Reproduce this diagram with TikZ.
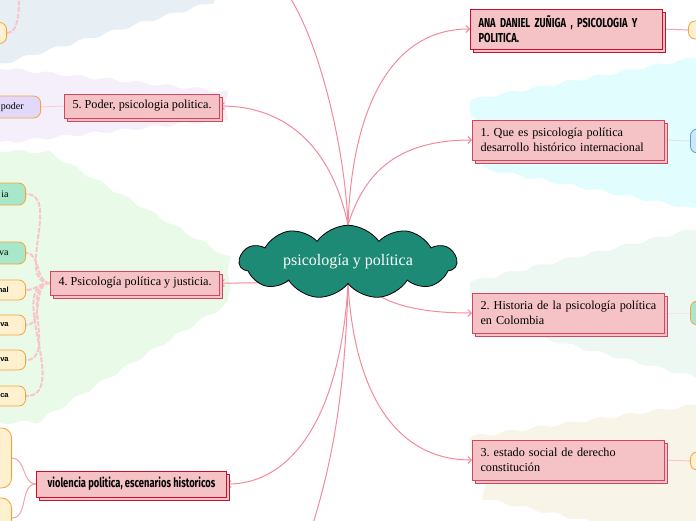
\documentclass[tikz,border=0pt]{standalone}
\usepackage{fontspec}
\setmainfont{Liberation Serif}
\setsansfont{Liberation Sans}
\newfontfamily\headfont[FakeStretch=0.72]{Fira Sans}
\usetikzlibrary{positioning,shapes.symbols,shadows,arrows.meta,decorations.pathmorphing}
\frenchspacing

\definecolor{boxfill}{HTML}{F5C2C5}
\definecolor{boxline}{HTML}{D2475F}
\definecolor{boxdark}{HTML}{C8102E}
\definecolor{linkpink}{HTML}{F28A9B}
\definecolor{coreteal}{HTML}{1D8A76}
\definecolor{leafline}{HTML}{F5A33A}
\definecolor{leafyellow}{HTML}{FFF1CF}
\definecolor{leafmint}{HTML}{A9E7CB}
\definecolor{leaflilac}{HTML}{E2D8FA}
\definecolor{leafblue}{HTML}{CDE8FA}
\definecolor{leafblueline}{HTML}{4DA3E0}
\definecolor{zoneblue}{HTML}{E7EFF5}
\definecolor{zonelilac}{HTML}{F5EFFB}
\definecolor{zonegreen}{HTML}{E9FBE8}
\definecolor{zonecyan}{HTML}{E1FDFD}
\definecolor{zonemint}{HTML}{EEF8F3}
\definecolor{zonebeige}{HTML}{F8F4E7}

\pgfdeclarelayer{bg}
\pgfdeclarelayer{links}
\pgfsetlayers{bg,links,main}

\begin{document}
\begin{tikzpicture}[x=1pt,y=-1pt,
  topic/.style={draw=boxline, fill=boxfill, line width=1pt,
    copy shadow={shadow xshift=3pt, shadow yshift=-3pt},
    anchor=west, inner xsep=8pt, minimum height=24pt,
    font=\fontsize{12.2}{15}\selectfont},
  wide/.style={minimum width=191pt, minimum height=40pt, text width=176pt, align=left},
  heading/.style={draw=boxdark, font=\headfont\bfseries\fontsize{13}{14.5}\selectfont},
  leaf/.style={draw=leafline, fill=leafyellow, line width=0.8pt, rounded corners=7pt,
    minimum height=22pt, text width=60pt, align=right, inner xsep=17pt, anchor=east,
    font=\fontsize{10}{12}\selectfont},
  tag/.style={font=\sffamily\bfseries\fontsize{7.5}{9}\selectfont, minimum height=20pt},
  link/.style={draw=linkpink, line width=1pt, -{Straight Barb[length=3.5pt,width=7pt]}},
  twig/.style={draw=linkpink!60, line width=1pt},
  strand/.style={draw=linkpink!50, line width=2pt, dash pattern=on 5pt off 1.5pt},
  zone/.style={decorate, decoration={snake, amplitude=1.5pt, segment length=30pt}}]
  \useasboundingbox (0,0) rectangle (696,520);
  \clip (0,0) rectangle (696,520);

  % zones
  \begin{pgfonlayer}{bg}
    \fill[zone, zoneblue] (-20,-20) -- (225,-20) -- (212,0) -- (0,62) -- (-20,66) -- cycle;
    \fill[zone, zonelilac] (-20,66) -- (0,68) -- (228,92) -- (228,122) -- (0,146) -- (-20,148) -- cycle;
    \fill[zone, zonegreen] (-20,150) -- (40,152) -- (228,262) -- (228,300) -- (40,417) -- (-20,419) -- cycle;
    \fill[zone, zonecyan] (470,100) -- (716,54) -- (716,224) -- (470,177) -- cycle;
    \fill[zone, zonemint] (470,282) -- (716,224) -- (716,400) -- (470,337) -- cycle;
    \fill[zone, zonebeige] (470,437) -- (716,402) -- (716,540) -- (470,487) -- cycle;
  \end{pgfonlayer}

  % centre
  \node[cloud, cloud puffs=11, cloud puff arc=110, aspect=4.1, draw=black, fill=coreteal,
    line width=0.8pt, minimum width=217pt, minimum height=54pt, text=white,
    font=\fontsize{16}{18}\selectfont] (core) at (348,262) {psicología y política};

  % right side
  \node[topic, heading, wide] (ana) at (470,29) {ANA DANIEL ZUÑIGA , PSICOLOGIA Y\\POLITICA.};
  \node[topic, wide] (n1) at (472,140) {1. Que es psicología política\\desarrollo histórico internacional};
  \node[topic, wide] (n2) at (472,313) {2. Historia de la psicología política\\en Colombia};
  \node[topic, wide] (n3) at (472,460) {3. estado social de derecho\\constitución};
  \node[leaf, anchor=west, minimum height=18pt] (ra) at (688,30) {};
  \node[leaf, anchor=west, minimum height=24pt, draw=leafblueline, fill=leafblue] (r1) at (690,141) {};
  \node[leaf, anchor=west, minimum height=24pt, fill=leafmint] (r2) at (690,313) {};
  \node[leaf, anchor=west, minimum height=18pt] (r3) at (690,461) {};

  % left side
  \node[topic] (n5) at (64,106) {5. Poder, psicologia politica.};
  \node[topic] (n4) at (50,283) {4. Psicología política y justicia.};
  \node[topic, heading, minimum height=26pt, minimum width=190pt] (nv) at (36,484) {violencia politica, escenarios historicos};
  \node[leaf, minimum height=21pt] (tl) at (7,33) {};
  \node[leaf, fill=leaflilac] (pd) at (41,107) {poder};
  \node[leaf, fill=leafmint] (g1) at (26,194) {ia};
  \node[leaf, fill=leafmint] (g2) at (26,253) {va};
  \node[leaf, tag] (g3) at (26,290) {nal};
  \node[leaf, tag] (g4) at (26,325) {va};
  \node[leaf, tag] (g5) at (26,360) {va};
  \node[leaf, tag] (g6) at (26,396) {ca};
  \node[leaf, minimum height=60pt, rounded corners=10pt] (v1) at (12,458) {};
  \node[leaf, minimum height=40pt, rounded corners=10pt] (v2) at (12,518) {};
  \coordinate (up) at (285,-10);
  \coordinate (down) at (311,530);
  \coordinate (tlup) at (19,-5);

  % connectors
  \begin{pgfonlayer}{links}
    \draw[link] (core.north) .. controls (352,110) and (390,29) .. (ana.west);
    \draw[link] (core.north) .. controls (365,170) and (400,140) .. (n1.west);
    \draw[link] (core.north) .. controls (345,150) and (320,40) .. (up);
    \draw[link] (core.north) .. controls (330,140) and (280,106) .. (n5.east);
    \draw[link] (core.south west) .. controls (260,283) .. (n4.east);
    \draw[link] (core.south) .. controls (340,420) and (290,484) .. (nv.east);
    \draw[link] (core.south) .. controls (345,400) and (330,470) .. (down);
    \draw[link] (core.south) .. controls (355,400) and (400,460) .. (n3.west);
    \draw[link] ([xshift=15pt]core.south) .. controls (385,305) and (420,313) .. (n2.west);
    \draw[twig, linkpink!80] (ana.east) -- (ra.west);
    \draw[twig, black!10] (n1.east) -- (r1.west);
    \draw[twig, linkpink!25] (n2.east) -- (r2.west);
    \draw[twig, linkpink!50] (n3.east) -- (r3.west);
    \draw[twig, linkpink!40] (pd.east) -- (n5.west);
    \draw[twig, linkpink!80] (nv.west) to[out=180,in=0] (v1.east);
    \draw[twig, linkpink!80] (nv.west) to[out=180,in=0] (v2.east);
    \draw[strand] (tl.east) .. controls (19,33) and (19,10) .. (tlup);
    \foreach \g in {g1,g2,g3,g4,g5,g6}
      \draw[strand] (n4.west) to[out=180,in=0] (\g.east);
  \end{pgfonlayer}
\end{tikzpicture}
\end{document}
